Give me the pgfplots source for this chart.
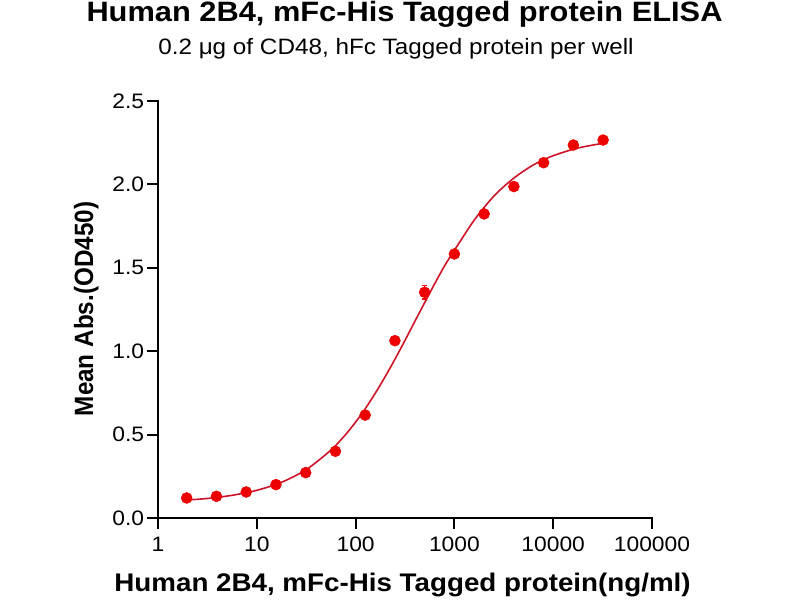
\documentclass[border=0pt]{standalone}
\usepackage{fontspec}
\setmainfont{Liberation Sans}
\usepackage{graphicx}
\usepackage{pgfplots}
\pgfplotsset{compat=1.18}
\definecolor{dotred}{RGB}{236,0,0}
\definecolor{curvered}{RGB}{205,20,40}
\newcommand{\sx}[1]{\scalebox{1.09}[1]{#1}}
\begin{document}
\begin{tikzpicture}
\path[use as bounding box] (0,0) rectangle (600pt,450pt);
\begin{axis}[
  at={(118.5pt,61.5pt)}, anchor=south west,
  scale only axis, width=370.5pt, height=312.75pt,
  xmode=log, xmin=1, xmax=100000, ymin=0, ymax=2.5,
  axis lines=left,
  axis line style={-, line width=1.6pt, line cap=rect},
  xtick={1,10,100,1000,10000,100000},
  xticklabels={\sx{1},\sx{10},\sx{100},\sx{1000},\sx{10000},\sx{100000}},
  xminorticks=false,
  ytick={0,0.5,1,1.5,2,2.5},
  yticklabels={\sx{0.0},\sx{0.5},\sx{1.0},\sx{1.5},\sx{2.0},\sx{2.5}},
  tick align=outside,
  major tick length=8.25pt,
  tick style={line width=1.5pt, black},
  ticklabel style={font=\fontsize{15.7}{18}\selectfont},
  yticklabel style={inner sep=2pt},
  xticklabel style={inner sep=2pt, yshift=-4pt},
  clip=false,
]
\addplot[color=curvered, line width=1.2pt, smooth, no marks] coordinates {
(1.95,0.108) (3.162,0.117) (5.623,0.136) (10,0.166) (17.78,0.214)
(31.62,0.290) (56.23,0.407) (79.43,0.501) (100,0.575) (125.9,0.657)
(158.5,0.749) (199.5,0.848) (251.2,0.954) (316.2,1.065) (398.1,1.179)
(501.2,1.292) (631,1.404) (794.3,1.511) (1000,1.605) (1585,1.785)
(2512,1.930) (3981,2.037) (6310,2.117) (10000,2.172) (17783,2.218)
(32359,2.247)
};
\addplot[only marks, mark=*, mark size=4.1pt, color=dotred,
  error bars/.cd, y dir=both, y explicit,
  error bar style={line width=1pt, color=dotred},
  error mark options={rotate=90, mark size=2pt, line width=1pt, color=dotred}]
  coordinates {
(1.953,0.12) +- (0,0)
(3.906,0.13) +- (0,0)
(7.8125,0.156) +- (0,0)
(15.625,0.20) +- (0,0)
(31.25,0.272) +- (0,0)
(62.5,0.40) +- (0,0)
(125,0.617) +- (0,0)
(250,1.063) +- (0,0)
(500,1.353) +- (0,0.04)
(1000,1.583) +- (0,0)
(2000,1.823) +- (0,0)
(4000,1.987) +- (0,0.02)
(8000,2.13) +- (0,0)
(16000,2.236) +- (0,0)
(32000,2.266) +- (0,0)
};
\end{axis}
\node[anchor=base, font=\bfseries\fontsize{21}{24}\selectfont] at (303.4pt,433.7pt) {\scalebox{1.1}[1]{Human 2B4, mFc-His Tagged protein ELISA}};
\node[anchor=base, font=\fontsize{16.7}{19}\selectfont] at (297pt,409.3pt) {\sx{0.2 μg of CD48, hFc Tagged protein per well}};
\node[anchor=base, font=\bfseries\fontsize{19.1}{22}\selectfont] at (301.9pt,6pt) {\sx{Human 2B4, mFc-His Tagged protein(ng/ml)}};
\node[anchor=base, rotate=90, font=\bfseries\fontsize{18.2}{21}\selectfont] at (69.75pt,218.25pt) {\scalebox{1}[1.09]{Mean Abs.(OD450)}};
\end{tikzpicture}
\end{document}
